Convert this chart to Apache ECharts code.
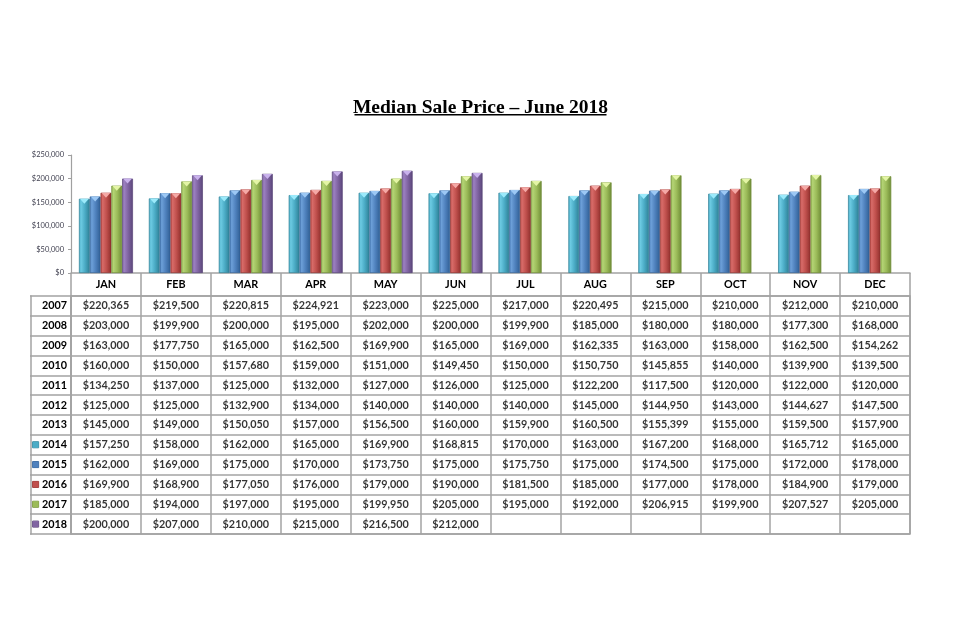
<!DOCTYPE html>
<html>
<head>
<meta charset="utf-8">
<script src="https://cdn.jsdelivr.net/npm/echarts@6/dist/echarts.min.js"></script>
<style>html,body{margin:0;padding:0;background:#fff}#c{width:961px;height:623px}</style>
</head>
<body>
<div id="c"></div>
<script>
var titleText = 'Median Sale Price \u2013 June 2018';
var months = ['JAN','FEB','MAR','APR','MAY','JUN','JUL','AUG','SEP','OCT','NOV','DEC'];
var years = ['2007','2008','2009','2010','2011','2012','2013','2014','2015','2016','2017','2018'];
var yTicks = [0, 50000, 100000, 150000, 200000, 250000];

var y2007 = [220365, 219500, 220815, 224921, 223000, 225000, 217000, 220495, 215000, 210000, 212000, 210000];
var y2008 = [203000, 199900, 200000, 195000, 202000, 200000, 199900, 185000, 180000, 180000, 177300, 168000];
var y2009 = [163000, 177750, 165000, 162500, 169900, 165000, 169000, 162335, 163000, 158000, 162500, 154262];
var y2010 = [160000, 150000, 157680, 159000, 151000, 149450, 150000, 150750, 145855, 140000, 139900, 139500];
var y2011 = [134250, 137000, 125000, 132000, 127000, 126000, 125000, 122200, 117500, 120000, 122000, 120000];
var y2012 = [125000, 125000, 132900, 134000, 140000, 140000, 140000, 145000, 144950, 143000, 144627, 147500];
var y2013 = [145000, 149000, 150050, 157000, 156500, 160000, 159900, 160500, 155399, 155000, 159500, 157900];
var y2014 = [157250, 158000, 162000, 165000, 169900, 168815, 170000, 163000, 167200, 168000, 165712, 165000];
var y2015 = [162000, 169000, 175000, 170000, 173750, 175000, 175750, 175000, 174500, 175000, 172000, 178000];
var y2016 = [169900, 168900, 177050, 176000, 179000, 190000, 181500, 185000, 177000, 178000, 184900, 179000];
var y2017 = [185000, 194000, 197000, 195000, 199950, 205000, 195000, 192000, 206915, 199900, 207527, 205000];
var y2018 = [200000, 207000, 210000, 215000, 216500, 212000, null, null, null, null, null, null];

var tableRows = [y2007, y2008, y2009, y2010, y2011, y2012, y2013, y2014, y2015, y2016, y2017, y2018];
var chartYears = ['2014','2015','2016','2017','2018'];
var chartRows = [y2014, y2015, y2016, y2017, y2018];

// styling
var baseColors = ['#4BACC6','#4F81BD','#C0504D','#9BBB59','#8064A2'];
var lightColors = ['#6CCAE2','#6C9FD8','#D76B68','#B3D374','#9B80C0'];
var capColors = ['#9BEAFB','#9CC8F5','#F5A9A6','#E4F5A6','#C9B2EC'];
var darkColors = ['#2E7F95','#2F5E93','#8E2F2C','#6E8B36','#594578'];
var FONT = 'Lato';
var GRID_L = 71, GRID_R = 51;

function money(v){ return '$' + Number(v).toLocaleString('en-US'); }
function grad(i){
  return new echarts.graphic.LinearGradient(0,0,1,0,[
    {offset:0,color:baseColors[i]},
    {offset:0.2,color:lightColors[i]},
    {offset:0.55,color:baseColors[i]},
    {offset:1,color:darkColors[i]}
  ]);
}

var series = [];
chartRows.forEach(function(row, i){
  series.push({
    type:'bar', name:chartYears[i], xAxisIndex:0, yAxisIndex:0,
    data: row, barWidth:10.8, barGap:'0%',
    itemStyle:{color:grad(i), borderColor:darkColors[i], borderWidth:0.7},
    silent:true, z:2
  });
});
chartRows.forEach(function(row, i){
  series.push({
    type:'pictorialBar', name:chartYears[i]+'cap', xAxisIndex:0, yAxisIndex:0,
    data: row, barWidth:10.8, barGap:'0%',
    symbol:'triangle', symbolRotate:180, symbolSize:[9,5], symbolPosition:'end',
    symbolOffset:[0,0],
    itemStyle:{color:capColors[i]}, silent:true, z:3
  });
});

// table values
var cells = [];
tableRows.forEach(function(row, r){
  row.forEach(function(v, c){ if (v != null) cells.push([c, r, v]); });
});
series.push({
  type:'scatter', xAxisIndex:1, yAxisIndex:1, data:cells,
  symbol:'rect', symbolSize:1, itemStyle:{color:'rgba(0,0,0,0)'}, silent:true,
  label:{show:true, position:'inside', formatter:function(p){return money(p.value[2]);},
    fontFamily:FONT, fontWeight:'bold', fontSize:10.8, color:'#000'},
  z:5
});

var rich = {t:{fontFamily:FONT, fontWeight:'bold', fontSize:10.8, color:'#000'}};
chartYears.forEach(function(y,i){
  rich['k'+i] = {width:6, height:6, backgroundColor:baseColors[i], borderColor:darkColors[i], borderWidth:0.5, padding:0};
});

var BORDER = '#A3A3A3';

var option = {
  backgroundColor:'#fff',
  animation:false,
  title:{text:titleText, left:'center', top:93,
    textStyle:{fontFamily:'Liberation Serif', fontWeight:'bold', fontSize:19.5, color:'#000'}},
  graphic:[{type:'rect', left:'center', top:114, shape:{width:252, height:1.5}, style:{fill:'#000'}}],
  grid:[
    {left:GRID_L, right:GRID_R, top:155, height:118},
    {left:GRID_L, right:GRID_R, top:296, height:238, show:true, borderColor:BORDER, borderWidth:1.5}
  ],
  xAxis:[
    {type:'category', gridIndex:0, data:months,
     axisLine:{lineStyle:{color:BORDER, width:1.5}},
     axisTick:{show:true, length:23, lineStyle:{color:BORDER, width:1.5}},
     axisLabel:{margin:6, fontFamily:FONT, fontWeight:'bold', fontSize:10.8, color:'#000', interval:0}},
    {type:'category', gridIndex:1, data:months,
     axisLine:{show:false}, axisTick:{show:false}, axisLabel:{show:false},
     splitLine:{show:true, interval:0, lineStyle:{color:BORDER, width:1.5}}}
  ],
  yAxis:[
    {type:'value', gridIndex:0, min:yTicks[0], max:yTicks[yTicks.length-1], interval:yTicks[1]-yTicks[0],
     axisLine:{show:true, lineStyle:{color:'#A0A0A0', width:1.2}},
     axisTick:{show:true, length:3, lineStyle:{color:'#A0A0A0'}},
     splitLine:{show:false},
     axisLabel:{margin:7, fontFamily:FONT, fontSize:7.5, color:'#404050', formatter:function(v){return money(v);}}},
    {type:'category', gridIndex:1, data:years, inverse:true, position:'left',
     axisLine:{show:true, lineStyle:{color:BORDER, width:1.5}},
     axisTick:{show:true, length:41, interval:0, lineStyle:{color:BORDER, width:1.5}},
     splitLine:{show:true, interval:0, lineStyle:{color:BORDER, width:1.5}},
     axisLabel:{margin:4, interval:0, rich:rich, formatter:function(v){
        var i = chartYears.indexOf(v);
        return i >= 0 ? '{k'+i+'|} {t|'+v+'}' : '{t|'+v+'}';
     }}},
    {type:'category', gridIndex:1, data:years, inverse:true, position:'left', offset:40,
     axisLine:{show:true, lineStyle:{color:BORDER, width:1.5}},
     axisTick:{show:false}, axisLabel:{show:false}, splitLine:{show:false}}
  ],
  series:series
};
var chart = echarts.init(document.getElementById('c'), null, {renderer:'canvas'});
chart.setOption(option);
</script>
</body>
</html>
